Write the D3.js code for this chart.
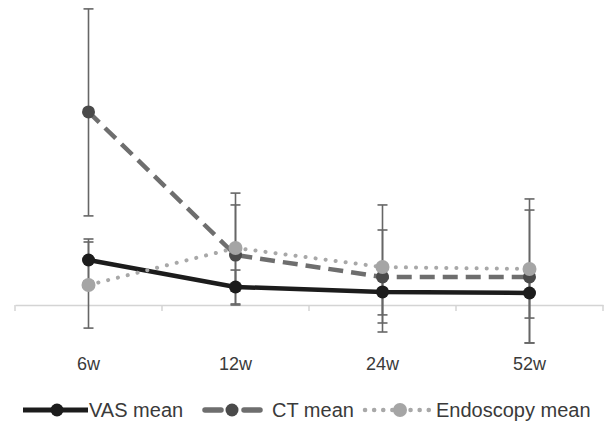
<!DOCTYPE html>
<html><head><meta charset="utf-8">
<script src="https://cdn.jsdelivr.net/npm/d3@7"></script>
<style>html,body{margin:0;padding:0;background:#fff}svg{display:block}</style>
</head><body>
<svg id="chart" width="608" height="424"></svg>
<script>
const categories = ["6w", "12w", "24w", "52w"];
const seriesNames = ["VAS mean", "CT mean", "Endoscopy mean"];
const vasMean = [3.0, 1.2, 0.87, 0.8];
const vasPlus = [1.4, 1.13, 1.53, 1.67];
const vasMinus = [1.4, 1.13, 1.53, 1.67];
const ctMean = [12.87, 3.33, 1.87, 1.87];
const ctPlus = [6.87, 4.13, 4.8, 5.2];
const ctMinus = [6.93, 3.33, 3.67, 4.4];
const endoMean = [1.33, 3.8, 2.53, 2.4];
const endoPlus = [2.87, 2.87, 2.47, 3.93];
const endoMinus = [2.87, 2.87, 3.73, 4.93];

const svg = d3.select("#chart");
const x = d3.scaleBand().domain(categories).range([15, 603]);
const y = d3.scaleLinear().domain([0, 20]).range([305, 5]);
const cx = c => x(c) + x.bandwidth() / 2;
const FONT = "Liberation Sans, Arial, sans-serif";

const series = [
  {name: seriesNames[0], mean: vasMean, plus: vasPlus, minus: vasMinus,
   line: "#1c1c1c", marker: "#1c1c1c", width: 4.5, dash: null, cap: "butt", r: 6.5},
  {name: seriesNames[1], mean: ctMean, plus: ctPlus, minus: ctMinus,
   line: "#6e6e6e", marker: "#4a4a4a", width: 4.5, dash: "15 8", cap: "butt", r: 6.5},
  {name: seriesNames[2], mean: endoMean, plus: endoPlus, minus: endoMinus,
   line: "#a8a8a8", marker: "#a5a5a5", width: 4, dash: "0.1 10", cap: "round", r: 7}
];

// category axis
const axis = d3.axisBottom(x).tickSize(0).tickPadding(0).tickFormat(d => d);
const gx = svg.append("g").attr("transform", "translate(0,305)").call(axis);
gx.select(".domain").attr("stroke", "#d4d4d4").attr("stroke-width", 1.5);
gx.selectAll(".tick line").remove();
gx.selectAll(".tick text").attr("dy", 0).attr("y", 65)
  .style("font-family", FONT).style("font-size", "18px").attr("fill", "#3a3a3a");
const bounds = categories.map(c => x(c)).concat([x.range()[1]]);
svg.append("g").selectAll("line").data(bounds).join("line")
  .attr("x1", d => d).attr("x2", d => d).attr("y1", 305).attr("y2", 311)
  .attr("stroke", "#d4d4d4").attr("stroke-width", 1.5);

const lineGen = d3.line().x((d, i) => cx(categories[i])).y(d => y(d));

series.forEach(s => {
  svg.append("path").datum(s.mean).attr("d", lineGen)
    .attr("fill", "none").attr("stroke", s.line).attr("stroke-width", s.width)
    .attr("stroke-dasharray", s.dash).attr("stroke-linecap", s.cap).attr("stroke-linejoin", "round");
});

series.forEach(s => {
  const g = svg.append("g").attr("stroke", "#666").attr("stroke-width", 1.6);
  categories.forEach((c, i) => {
    const top = y(s.mean[i] + s.plus[i]), bot = y(s.mean[i] - s.minus[i]);
    g.append("line").attr("x1", cx(c)).attr("x2", cx(c)).attr("y1", top).attr("y2", bot);
    [top, bot].forEach(v => g.append("line").attr("x1", cx(c) - 5).attr("x2", cx(c) + 5).attr("y1", v).attr("y2", v));
  });
});

series.forEach(s => {
  svg.append("g").selectAll("circle").data(s.mean).join("circle")
    .attr("cx", (d, i) => cx(categories[i])).attr("cy", d => y(d)).attr("r", s.r)
    .attr("fill", s.marker);
});

// legend
const legendPos = [
  {x1: 23, x2: 88, m: 57, t: 89},
  {x1: 203, x2: 262, m: 232, t: 272},
  {x1: 365, x2: 432, m: 400, t: 436}
];
const ly = 410;
series.forEach((s, i) => {
  const p = legendPos[i];
  const g = svg.append("g");
  if (i === 1) {
    g.append("line").attr("x1", p.x1 + 2).attr("x2", p.x1 + 18).attr("y1", ly).attr("y2", ly)
      .attr("stroke", s.line).attr("stroke-width", 5.5).attr("stroke-linecap", "round");
    g.append("line").attr("x1", p.x2 - 18).attr("x2", p.x2 - 2).attr("y1", ly).attr("y2", ly)
      .attr("stroke", s.line).attr("stroke-width", 5.5).attr("stroke-linecap", "round");
  } else {
    g.append("line").attr("x1", p.x1).attr("x2", p.x2).attr("y1", ly).attr("y2", ly)
      .attr("stroke", s.line).attr("stroke-width", i === 0 ? 5 : 4.5)
      .attr("stroke-dasharray", i === 2 ? "0.1 9" : null).attr("stroke-linecap", s.cap);
  }
  g.append("circle").attr("cx", p.m).attr("cy", ly).attr("r", s.r).attr("fill", s.marker);
  g.append("text").attr("x", p.t).attr("y", ly + 7).text(s.name)
    .style("font-family", FONT).style("font-size", "20px").attr("fill", "#3a3a3a");
});
</script>
</body></html>
